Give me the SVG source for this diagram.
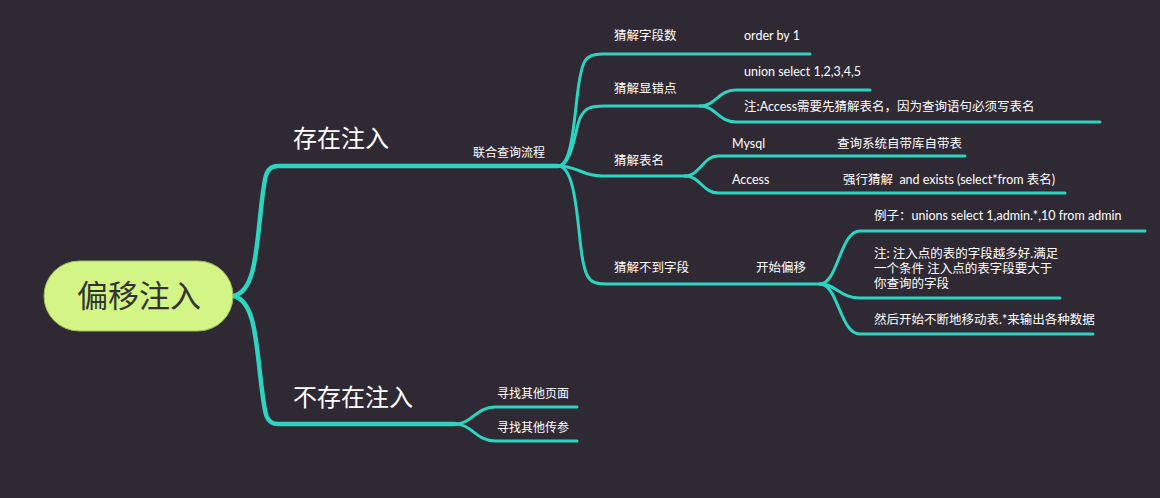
<svg xmlns="http://www.w3.org/2000/svg" width="1160" height="498" viewBox="0 0 1160 498">
<style>
.bg{fill:#2f2934}
.ln{fill:none;stroke:#2cd5c2;stroke-width:3;stroke-linecap:round}
.thick{stroke-width:4.5}
.t{fill:#ffffff;font-family:Lato,"Noto Sans CJK SC",sans-serif;font-size:12.5px}
.s{font-size:12px}
.big{font-family:"Noto Sans CJK SC",sans-serif;font-size:24px;fill:#ffffff}
.root{fill:#d2f585;stroke:#9fbf5c;stroke-width:1}
.rt{font-family:"Noto Sans CJK SC",sans-serif;font-size:31px;fill:#333333}
</style>
<rect class="bg" x="0" y="0" width="1160" height="498"/>
<g id="connectors">
<path class="ln thick" d="M234,296 C256,290 256,250 262,200 C265,175 266,166 278,166 H558"/>
<path class="ln thick" d="M234,296 C256,302 256,345 262,390 C265,415 266,424 278,424 H455"/>
<path class="ln" d="M455,424 C472,424 476,407 495,407 H577"/>
<path class="ln" d="M455,424 C472,424 476,441 495,441 H577"/>
<path class="ln" d="M558,166 C572,166 574,120 578,90 C582,60 585,54 602,54 H810"/>
<path class="ln" d="M558,166 C572,166 575,130 580,118 C585,108 590,106 605,106 H700"/>
<path class="ln" d="M558,166 C578,166 582,176 602,176 H685"/>
<path class="ln" d="M558,166 C572,166 576,200 580,240 C584,278 588,284 605,284 H820"/>
<path class="ln" d="M700,106 C716,106 718,90 736,90 H870"/>
<path class="ln" d="M700,106 C716,106 718,122 736,122 H1100"/>
<path class="ln" d="M685,176 C700,176 703,156 718,156 H965"/>
<path class="ln" d="M685,176 C700,176 703,193 718,193 H1065"/>
<path class="ln" d="M820,284 C838,284 840,231 860,231 H1145"/>
<path class="ln" d="M820,284 C836,284 840,298 860,298 H1060"/>
<path class="ln" d="M820,284 C838,284 840,334 860,334 H1093"/>
</g>
<g id="root"><rect class="root" x="44" y="261" width="189" height="70" rx="35"/><text class="rt" x="139" y="307" text-anchor="middle">偏移注入</text></g>
<g id="n-exist"><text class="big" x="293" y="147">存在注入</text></g>
<g id="n-notexist"><text class="big" x="293" y="406">不存在注入</text></g>
<g id="n-union"><text class="t s" x="473" y="157">联合查询流程</text></g>
<g id="n-page"><text class="t s" x="497" y="398">寻找其他页面</text></g>
<g id="n-param"><text class="t s" x="497" y="432">寻找其他传参</text></g>
<g id="n-cols"><text class="t" x="614" y="40">猜解字段数</text></g>
<g id="n-orderby"><text class="t" x="744" y="40">order by 1</text></g>
<g id="n-disp"><text class="t" x="614" y="93">猜解显错点</text></g>
<g id="n-unionsel"><text class="t" x="744" y="76">union select 1,2,3,4,5</text></g>
<g id="n-note1"><text class="t" x="744" y="111">注:Access需要先猜解表名，因为查询语句必须写表名</text></g>
<g id="n-table"><text class="t" x="614" y="165">猜解表名</text></g>
<g id="n-mysql"><text class="t" x="732" y="148">Mysql</text><text class="t" x="837" y="148">查询系统自带库自带表</text></g>
<g id="n-access"><text class="t" x="732" y="184">Access</text><text class="t" x="843" y="184" xml:space="preserve">强行猜解  and exists (select*from 表名)</text></g>
<g id="n-nocols"><text class="t" x="614" y="272">猜解不到字段</text></g>
<g id="n-offset"><text class="t" x="756" y="272">开始偏移</text></g>
<g id="n-example"><text class="t" x="874" y="220">例子：unions select 1,admin.*,10 from admin</text></g>
<g id="n-note2"><text class="t" x="874" y="258">注: 注入点的表的字段越多好.满足</text><text class="t" x="874" y="273">一个条件 注入点的表字段要大于</text><text class="t" x="874" y="288">你查询的字段</text></g>
<g id="n-move"><text class="t" x="874" y="324">然后开始不断地移动表.*来输出各种数据</text></g>
</svg>
